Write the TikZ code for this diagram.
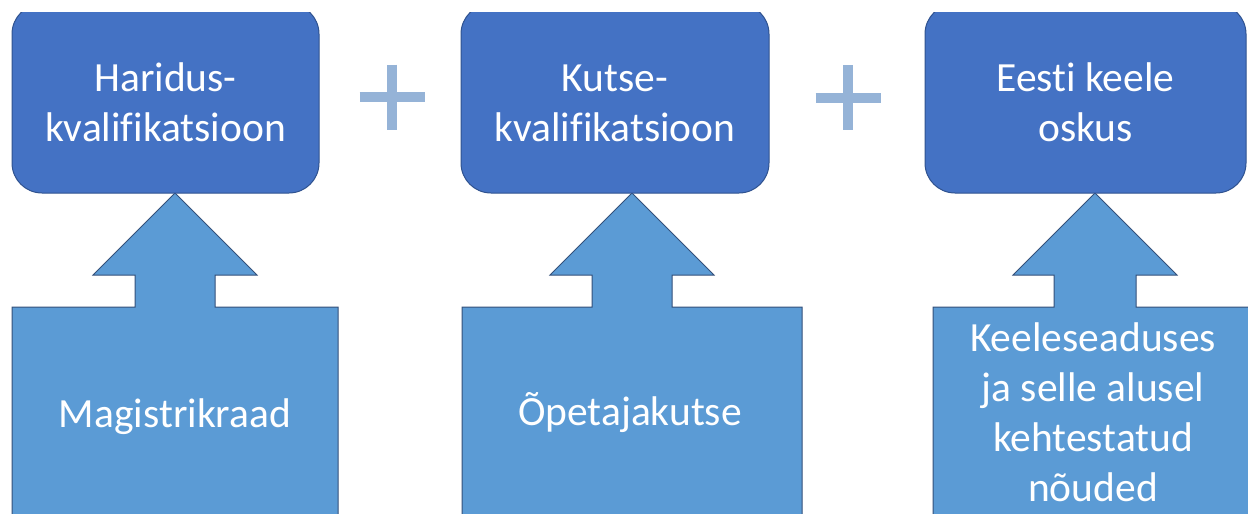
\documentclass[tikz,border=0pt]{standalone}
\usepackage{fontspec}
\setmainfont{Carlito}[Ligatures={NoCommon,NoContextual},Contextuals={NoAlternate}]
\usepackage{xcolor}
\usepackage{tikz}
\usetikzlibrary{calc}
\definecolor{boxblue}{RGB}{68,114,196}
\definecolor{boxedge}{RGB}{47,82,143}
\definecolor{arrowblue}{RGB}{91,155,213}
\definecolor{arrowedge}{RGB}{52,80,122}
\definecolor{plusblue}{RGB}{149,179,215}
% extra height for the first line of a box
\newcommand{\toplift}{\rule{0pt}{36pt}}

\begin{document}
\begin{tikzpicture}[x=1pt,y=-1pt,
    topbox/.style={draw=boxedge,line width=1pt,fill=boxblue,rounded corners=30pt,
        minimum height=189pt,align=center,text=white,
        font=\fontsize{41.5}{50}\selectfont},
    callbox/.style={draw=arrowedge,line width=1pt,fill=arrowblue,line join=miter},
    calltext/.style={text=white,align=center,inner sep=0pt,
        font=\fontsize{41.5}{50}\selectfont},
    plusbar/.style={draw=plusblue,line width=10pt,line cap=butt}]
    \useasboundingbox (0,0) rectangle (1248,514);
    \clip (0,12) rectangle (1248,514);
    % tips of the arrows
    \coordinate (tip1) at (175,193);
    \coordinate (tip2) at (632,193);
    \coordinate (tip3) at (1095,193);
    % arrow callouts
    \draw[callbox] (tip1) -- ++(82,82) -- ++(-42,0) -- ++(0,32) -- ++(123,0) -- ++(0,220)
        -- ++(-326,0) -- ++(0,-220) -- ++(123,0) -- ++(0,-32) -- ++(-42,0) -- cycle;
    \draw[callbox] (tip2) -- ++(82,82) -- ++(-42,0) -- ++(0,32) -- ++(130,0) -- ++(0,220)
        -- ++(-340,0) -- ++(0,-220) -- ++(130,0) -- ++(0,-32) -- ++(-42,0) -- cycle;
    \draw[callbox] (tip3) -- ++(82,82) -- ++(-41,0) -- ++(0,32) -- ++(121,0) -- ++(0,220)
        -- ++(-324,0) -- ++(0,-220) -- ++(121,0) -- ++(0,-32) -- ++(-41,0) -- cycle;
    \node[calltext,anchor=base] (mag) at (175,427) {Magistrikraad};
    \node[calltext,anchor=base] (ope) at (630,425) {Õpetajakutse};
    \node[calltext] (kee) at (1093,412) {Keeleseaduses\\ja selle alusel\\kehtestatud\\nõuded};
    % qualification boxes
    \node[topbox,minimum width=307pt] (hk) at (165.5,98.5) {\toplift Haridus-\\kvalifikatsioon};
    \node[topbox,minimum width=308pt] (kk) at (615,98.5) {\toplift Kutse-\\kvalifikatsioon};
    \node[topbox,minimum width=321pt] (ek) at (1085.5,98.5) {\toplift Eesti keele\\oskus};
    % plus signs
    \coordinate (p1) at ($(hk.east)!0.5!(kk.west)+(2,-1.5)$);
    \coordinate (p2) at ($(kk.east)!0.5!(ek.west)+(1,-1)$);
    \draw[plusbar] ($(p1)+(-32.5,0)$) -- ($(p1)+(32.5,0)$);
    \draw[plusbar] ($(p1)+(0,-32.5)$) -- ($(p1)+(0,32.5)$);
    \draw[plusbar] ($(p2)+(-32.5,0)$) -- ($(p2)+(32.5,0)$);
    \draw[plusbar] ($(p2)+(0,-32.5)$) -- ($(p2)+(0,32.5)$);
\end{tikzpicture}
\end{document}
